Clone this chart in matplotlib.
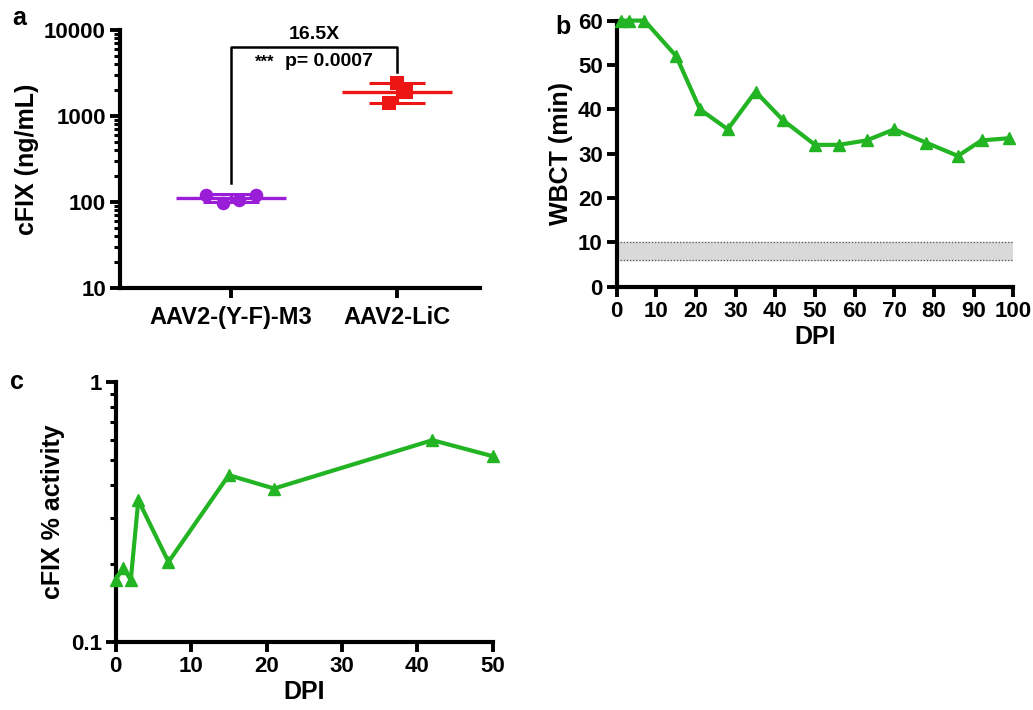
import numpy as np
import matplotlib
matplotlib.use("Agg")
import matplotlib.pyplot as plt
from matplotlib.ticker import LogLocator, NullFormatter, FixedLocator

plt.rcParams["font.family"] = ["Liberation Sans", "DejaVu Sans"]
plt.rcParams["font.weight"] = "bold"

# panel a: cFIX levels per vector
groups = ["AAV2-(Y-F)-M3", "AAV2-LiC"]
m3_vals = [120, 98, 105, 122]
m3_offsets = [-0.15, -0.05, 0.05, 0.15]
lic_vals = [2420, 1900, 1416]
lic_offsets = [0.0, 0.05, -0.05]

# panel b: WBCT over time
wbct_dpi = [1, 3, 7, 15, 21, 28, 35, 42, 50, 56, 63, 70, 78, 86, 92, 99]
wbct_min = [60, 60, 60, 52, 40, 35.5, 44, 37.5, 32, 32, 33, 35.5, 32.5, 29.5, 33, 33.5]
normal_range = (6, 10)

# panel c: cFIX activity over time
act_dpi = [0, 1, 2, 3, 7, 15, 21, 42, 50]
act_pct = [0.173, 0.193, 0.173, 0.351, 0.203, 0.438, 0.389, 0.597, 0.518]

GREEN = "#22b422"
PURPLE = "#9a1ed8"
RED = "#ee1515"
TICK_FS = 16
LABEL_FS = 18


def style_axes(ax):
    for side in ("top", "right"):
        ax.spines[side].set_visible(False)
    for side in ("left", "bottom"):
        ax.spines[side].set_linewidth(3.0)
    ax.tick_params(which="major", width=2.8, length=7, labelsize=TICK_FS, pad=3)
    ax.tick_params(which="minor", width=2.2, length=4)
    for lab in ax.get_xticklabels() + ax.get_yticklabels():
        lab.set_fontweight("bold")


fig = plt.figure(figsize=(10.33, 7.1), dpi=100)

# ---- panel a ----
ax_a = fig.add_axes([0.116, 0.594, 0.349, 0.364])
ax_a.set_yscale("log")
ax_a.set_ylim(10, 10000)
ax_a.set_xlim(-0.67, 1.5)
for idx, (vals, offs, color, marker) in enumerate(
    [(m3_vals, m3_offsets, PURPLE, "o"), (lic_vals, lic_offsets, RED, "s")]
):
    vals = np.array(vals)
    mean = vals.mean()
    sd = vals.std(ddof=1)
    ax_a.hlines(mean, idx - 0.33, idx + 0.33, color=color, lw=2.4, zorder=3)
    ax_a.errorbar(idx, mean, yerr=sd, color=color, lw=2.2, capsize=20,
                  capthick=2.2, fmt="none", zorder=3)
    ax_a.scatter(idx + np.array(offs), vals, color=color, marker=marker,
                 s=95, zorder=4, linewidths=0)
ax_a.plot([0, 0, 1, 1], [166, 6340, 6340, 3250], color="black", lw=1.8,
          clip_on=False)
ax_a.text(0.5, 8900, "16.5X", ha="center", va="center", fontsize=14,
          fontweight="bold")
ax_a.text(0.20, 4250, "***", ha="center", va="center", fontsize=12,
          fontweight="bold")
ax_a.text(0.59, 4250, "p= 0.0007", ha="center", va="center", fontsize=14,
          fontweight="bold")
ax_a.set_xticks([0, 1])
ax_a.set_xticklabels(groups)
ax_a.yaxis.set_major_locator(FixedLocator([10, 100, 1000, 10000]))
ax_a.yaxis.set_major_formatter(plt.FuncFormatter(lambda v, p: f"{v:g}"))
ax_a.yaxis.set_minor_locator(LogLocator(base=10, subs=np.arange(2, 10)))
ax_a.yaxis.set_minor_formatter(NullFormatter())
ax_a.set_ylabel("cFIX (ng/mL)", fontsize=LABEL_FS, fontweight="bold")
style_axes(ax_a)
ax_a.tick_params(axis="x", labelsize=17, pad=6)

# ---- panel b ----
ax_b = fig.add_axes([0.597, 0.596, 0.384, 0.375])
ax_b.axhspan(*normal_range, color="#d9d9d9", zorder=1)
for edge in normal_range:
    ax_b.axhline(edge, color="#555555", lw=0.9, ls=(0, (1, 1.5)), zorder=1)
ax_b.plot(wbct_dpi, wbct_min, color=GREEN, lw=3.0, marker="^", ms=9,
          clip_on=False, zorder=3)
ax_b.set_xlim(0, 100)
ax_b.set_ylim(0, 60)
ax_b.set_xticks(np.arange(0, 101, 10))
ax_b.set_yticks(np.arange(0, 61, 10))
ax_b.set_xlabel("DPI", fontsize=LABEL_FS, fontweight="bold", labelpad=2)
ax_b.set_ylabel("WBCT (min)", fontsize=LABEL_FS, fontweight="bold")
style_axes(ax_b)

# ---- panel c ----
ax_c = fig.add_axes([0.112, 0.096, 0.365, 0.366])
ax_c.plot(act_dpi, act_pct, color=GREEN, lw=3.0, marker="^", ms=9,
          clip_on=False, zorder=3)
ax_c.set_yscale("log")
ax_c.set_ylim(0.1, 1)
ax_c.set_xlim(0, 50)
ax_c.set_xticks(np.arange(0, 51, 10))
ax_c.yaxis.set_major_locator(FixedLocator([0.1, 1]))
ax_c.yaxis.set_major_formatter(plt.FuncFormatter(lambda v, p: f"{v:g}"))
ax_c.yaxis.set_minor_locator(LogLocator(base=10, subs=np.arange(2, 10)))
ax_c.yaxis.set_minor_formatter(NullFormatter())
ax_c.set_xlabel("DPI", fontsize=LABEL_FS, fontweight="bold", labelpad=2)
ax_c.set_ylabel("cFIX % activity", fontsize=LABEL_FS, fontweight="bold")
style_axes(ax_c)

# panel letters
fig.text(0.012, 0.975, "a", fontsize=18, fontweight="bold", va="center")
fig.text(0.538, 0.962, "b", fontsize=18, fontweight="bold", va="center")
fig.text(0.010, 0.462, "c", fontsize=18, fontweight="bold", va="center")

fig.savefig("out.png", dpi=100)
